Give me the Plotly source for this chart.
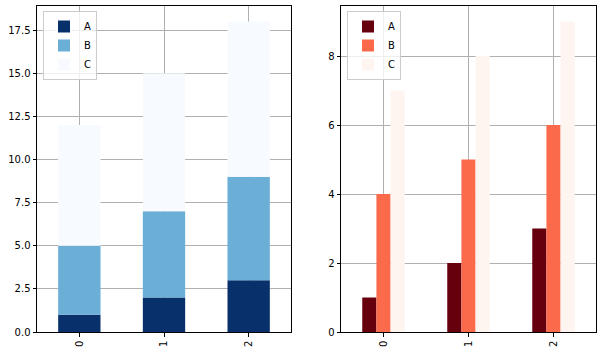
import plotly.graph_objects as go
import numpy as np

categories = ["0", "1", "2"]
series_names = ["A", "B", "C"]
a_vals = [1, 2, 3]
b_vals = [4, 5, 6]
c_vals = [7, 8, 9]
blues = ["#08306b", "#6baed6", "#f7fbff"]
reds = ["#67000d", "#fb6a4a", "#fff5f0"]

values = [a_vals, b_vals, c_vals]
x = [0, 1, 2]

fig = go.Figure()
base = np.zeros(3)
for name, vals, col in zip(series_names, values, blues):
    fig.add_trace(go.Bar(x=x, y=vals, base=base.tolist(), name=name, marker_color=col,
                         marker_line_width=0, offsetgroup="stack", xaxis="x", yaxis="y",
                         legend="legend"))
    base = base + np.array(vals)

for name, vals, col in zip(series_names, values, reds):
    fig.add_trace(go.Bar(x=x, y=vals, name=name, marker_color=col, marker_line_width=0,
                         xaxis="x2", yaxis="y2", legend="legend2"))

W, H = 601, 353
ydom = [(H - 332) / H, (H - 6) / H]
axis_common = dict(showline=True, linecolor="black", linewidth=1, mirror=True,
                   ticks="outside", ticklen=3.5, tickcolor="black", tickwidth=0.8,
                   showgrid=True, gridcolor="#b0b0b0", gridwidth=0.8, zeroline=False,
                   layer="above traces", tickfont=dict(family="DejaVu Sans", size=10, color="black"),
                   automargin=False)

fig.update_layout(
    width=W, height=H, margin=dict(l=0, r=0, t=0, b=0),
    paper_bgcolor="white", plot_bgcolor="white",
    barmode="group", bargap=0.5, bargroupgap=0,
    xaxis=dict(domain=[37 / W, 291 / W], range=[-0.5, 2.5], tickvals=x, ticktext=categories,
               tickangle=-90, anchor="y", **axis_common),
    yaxis=dict(domain=ydom, range=[0, 18.9], dtick=2.5, tick0=0, tickformat=".1f", anchor="x",
               **axis_common),
    xaxis2=dict(domain=[341 / W, 596 / W], range=[-0.5, 2.5], tickvals=x, ticktext=categories,
                tickangle=-90, anchor="y2", **axis_common),
    yaxis2=dict(domain=ydom, range=[0, 9.45], dtick=2, tick0=0, anchor="x2", **axis_common),
    legend=dict(x=43 / W, y=1 - 11 / H, xanchor="left", yanchor="top", xref="paper", yref="paper",
                bgcolor="rgba(255,255,255,0.8)", bordercolor="#cccccc", borderwidth=1,
                font=dict(family="DejaVu Sans", size=10, color="black"),
                tracegroupgap=0, itemwidth=30),
    legend2=dict(x=347 / W, y=1 - 11 / H, xanchor="left", yanchor="top", xref="paper", yref="paper",
                 bgcolor="rgba(255,255,255,0.8)", bordercolor="#cccccc", borderwidth=1,
                 font=dict(family="DejaVu Sans", size=10, color="black"),
                 tracegroupgap=0, itemwidth=30),
)

fig.write_html("out.html")
